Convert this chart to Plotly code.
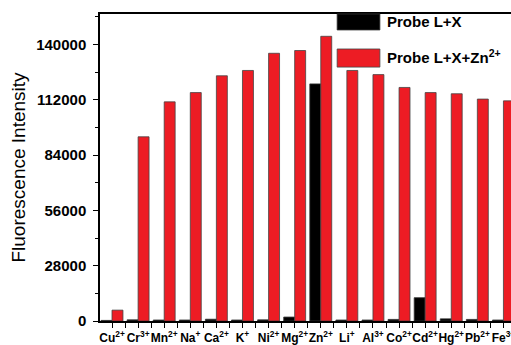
import plotly.graph_objects as go

ions = ["Cu<sup>2+</sup>", "Cr<sup>3+</sup>", "Mn<sup>2+</sup>", "Na<sup>+</sup>", "Ca<sup>2+</sup>",
        "K<sup>+</sup>", "Ni<sup>2+</sup>", "Mg<sup>2+</sup>", "Zn<sup>2+</sup>", "Li<sup>+</sup>",
        "Al<sup>3+</sup>", "Co<sup>2+</sup>", "Cd<sup>2+</sup>", "Hg<sup>2+</sup>", "Pb<sup>2+</sup>",
        "Fe<sup>3+</sup>"]
probe_lx = [300, 600, 500, 500, 900, 500, 600, 2000, 120100, 500, 500, 800, 11800, 1100, 800, 500]
probe_lx_zn = [5500, 93300, 111000, 115700, 124200, 126900, 135600, 137000, 144200, 126900,
               124800, 118300, 115700, 115100, 112400, 111500]
y_ticks = [0, 28000, 56000, 84000, 112000, 140000]

xpos = list(range(len(ions)))
RED = "#ed1c24"
font_family = "Liberation Sans, Arial, sans-serif"

fig = go.Figure()
fig.add_trace(go.Bar(x=xpos, y=probe_lx, name="Probe L+X",
                     marker=dict(color="#000000", line=dict(color="#333333", width=0.8))))
fig.add_trace(go.Bar(x=xpos, y=probe_lx_zn, name="Probe L+X+Zn<sup>2+</sup>",
                     marker=dict(color=RED, line=dict(color="#444444", width=0.8))))

fig.update_layout(
    width=511, height=345,
    margin=dict(l=100, r=0, t=14, b=24),
    barmode="group", bargap=0.16, bargroupgap=0,
    plot_bgcolor="white", paper_bgcolor="white",
    showlegend=False,
    font=dict(family=font_family, color="black"),
)
fig.update_xaxes(
    range=[-0.46, 15.29], tickmode="array", tickvals=xpos, ticktext=ions,
    tickangle=0, automargin=False, ticklabeloverflow="allow",
    showline=True, linecolor="black", linewidth=1.5, mirror=True,
    ticks="outside", ticklen=5, tickwidth=1.2, tickcolor="black",
    minor=dict(tick0=0.5, dtick=1, ticks="outside", ticklen=5, tickwidth=1.2, tickcolor="black"),
    tickfont=dict(size=12, weight="bold"), showgrid=False, zeroline=False,
    ticklabelstandoff=0,
)
fig.update_yaxes(
    range=[0, 155500], tickmode="array", tickvals=y_ticks,
    ticktext=[str(v) for v in y_ticks], automargin=False,
    showline=True, linecolor="black", linewidth=1.5, mirror=False,
    ticks="outside", ticklen=5, tickwidth=1.2, tickcolor="black",
    minor=dict(dtick=14000, ticks="outside", ticklen=3, tickwidth=1.2, tickcolor="black"),
    tickfont=dict(size=15, weight="bold"), showgrid=False, zeroline=False,
    ticklabelstandoff=4,
    title=dict(text="Fluorescence Intensity", font=dict(size=19), standoff=6),
)

# legend drawn as shapes + text
fig.add_shape(type="rect", xref="paper", yref="paper", x0=0.577, x1=0.681, y0=0.948, y1=1.0,
              fillcolor="#000000", line=dict(color="#333333", width=0.8))
fig.add_shape(type="rect", xref="paper", yref="paper", x0=0.577, x1=0.681, y0=0.827, y1=0.886,
              fillcolor=RED, line=dict(color="#444444", width=0.8))
fig.add_annotation(xref="paper", yref="paper", x=0.693, y=0.974, xanchor="left", yanchor="middle",
                   text="Probe L+X", showarrow=False, font=dict(size=15, weight="bold"))
fig.add_annotation(xref="paper", yref="paper", x=0.693, y=0.862, xanchor="left", yanchor="middle",
                   text="Probe L+X+Zn<sup>2+</sup>", showarrow=False, font=dict(size=15, weight="bold"))

fig.write_html("out.html")
